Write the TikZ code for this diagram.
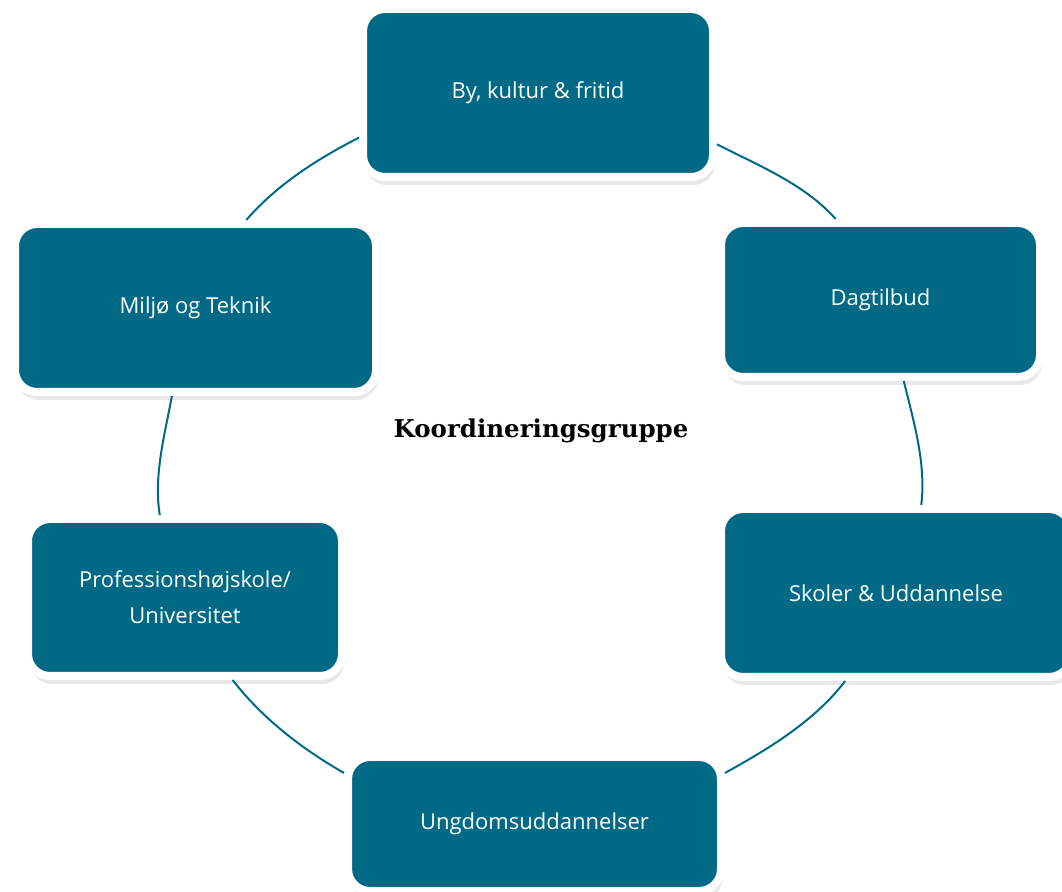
\documentclass[tikz,border=0pt]{standalone}
\usepackage{fontspec}
\setmainfont{Open Sans}
\newfontfamily\titlefont{DejaVu Serif}
\usetikzlibrary{shapes, shadows}
\definecolor{petrol}{RGB}{0,106,134}
\tikzstyle{unit} = [draw=white, line width=8pt, fill=petrol, rounded corners=22pt, text=white, font=\fontsize{22}{36}\selectfont, align=center, drop shadow={shadow xshift=2pt, shadow yshift=-8pt, opacity=0.18}]
\tikzstyle{ring} = [draw=petrol, line width=2pt, looseness=0.85]

\begin{document}
\begin{tikzpicture}[x=1pt, y=1pt]
\useasboundingbox (0,0) rectangle (1062,891);

%Boxes
\node[unit, minimum width=350pt, minimum height=168pt] (kultur) at (538,798) {By, kultur \& fritid};
\node[unit, minimum width=361pt, minimum height=168pt] (miljo) at (195.5,583) {Miljø og Teknik};
\node[unit, minimum width=319pt, minimum height=154pt] (dag) at (880.5,591) {Dagtilbud};
\node[unit, minimum width=350pt, minimum height=168pt] (skoler) at (896,298) {Skoler \& Uddannelse};
\node[unit, minimum width=314pt, minimum height=157pt] (prof) at (185,293.5) {Professionshøjskole/\\Universitet};
\node[unit, minimum width=373pt, minimum height=134pt] (ungdom) at (534.5,67) {Ungdomsuddannelser};

%Centre label
\node[font=\titlefont\bfseries\fontsize{24.5}{30}\selectfont] (koord) at (541,460) {Koordineringsgruppe};

%Connecting arcs
\draw[ring] (kultur.194.3) to[out=207, in=49.2] (miljo.60.8);
\draw[ring] (miljo.255.2) to[out=259.5, in=99.2] (prof.107.3);
\draw[ring] (prof.300.5) to[out=307.6, in=150.3] (ungdom.165.1);
\draw[ring] (ungdom.15) to[out=28.9, in=232.7] (skoler.240);
\draw[ring] (skoler.74.9) to[out=82.9, in=283.7] (dag.286.1);
\draw[ring] (dag.119.9) to[out=131.4, in=332.8] (kultur.344.2);

\end{tikzpicture}
\end{document}
